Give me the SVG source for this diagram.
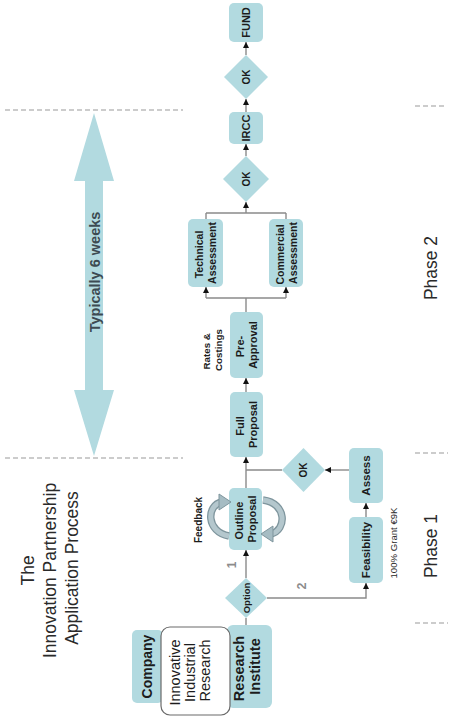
<svg xmlns="http://www.w3.org/2000/svg" width="458" height="720" viewBox="0 0 458 720">
<style>
.box{fill:#b2dae0;}
.bt{font-family:"Liberation Sans",Arial,sans-serif;font-weight:bold;fill:#1c1c1c;text-anchor:middle;dominant-baseline:central;}
.rt{font-family:"Liberation Sans",Arial,sans-serif;fill:#2a2a2a;text-anchor:middle;dominant-baseline:central;}
.ln{fill:none;stroke:#8a8a8a;stroke-width:1.4;}
.arr{fill:none;stroke:#8a8a8a;stroke-width:1.4;marker-end:url(#ah);}
.dash{fill:none;stroke:#9a9a9a;stroke-width:1.2;stroke-dasharray:5,3;}
.num{font-family:"Liberation Sans",Arial,sans-serif;font-weight:bold;fill:#8c8c8c;text-anchor:middle;dominant-baseline:central;}
</style>
<defs>
<marker id="ah" viewBox="0 0 10 10" refX="10" refY="5" markerWidth="6" markerHeight="7" orient="auto" markerUnits="userSpaceOnUse">
<path d="M0,0 L10,5 L0,10 z" fill="#111"/>
</marker>
</defs>
<rect width="458" height="720" fill="#ffffff"/>

<g id="title">
<text class="rt" transform="translate(50,568) rotate(-90)" font-size="17.5" fill="#333">
<tspan x="0" y="-22.5">The</tspan>
<tspan x="0" y="0">Innovation Partnership</tspan>
<tspan x="0" y="22">Application Process</tspan>
</text>
</g>

<g id="phase-markers">
<line class="dash" x1="5" y1="110" x2="183" y2="110"/>
<line class="dash" x1="5" y1="458" x2="183" y2="458"/>
<line class="dash" x1="415" y1="106" x2="444" y2="106"/>
<line class="dash" x1="415" y1="453" x2="448" y2="453"/>
<line class="dash" x1="415" y1="623" x2="448" y2="623"/>
<text class="rt" transform="translate(431,268) rotate(-90)" font-size="17.5">Phase 2</text>
<text class="rt" transform="translate(431,546) rotate(-90)" font-size="17.5">Phase 1</text>
</g>

<g id="duration">
<polygon class="box" points="94,113 114,181 103,181 103,390 114,390 94,456 74,390 85,390 85,181 74,181"/>
<text class="bt" transform="translate(95,272) rotate(-90)" font-size="14.5" style="fill:#3d4a52">Typically 6 weeks</text>
</g>

<g id="connectors">
<line class="ln" x1="246" y1="618" x2="246" y2="625"/>
<line class="arr" x1="246" y1="578" x2="246" y2="550"/>
<polyline class="arr" points="267,598 366,598 366,583"/>
<line class="arr" x1="366" y1="517" x2="366" y2="503"/>
<line class="arr" x1="349" y1="470" x2="325" y2="470"/>
<line class="ln" x1="282" y1="470" x2="246" y2="470"/>
<line class="arr" x1="246" y1="488" x2="246" y2="457"/>
<line class="arr" x1="246" y1="392" x2="246" y2="378"/>
<line class="ln" x1="246" y1="312" x2="246" y2="298"/>
<line class="ln" x1="206" y1="298" x2="286" y2="298"/>
<line class="arr" x1="206" y1="298" x2="206" y2="287"/>
<line class="arr" x1="286" y1="298" x2="286" y2="287"/>
<line class="ln" x1="206" y1="219" x2="206" y2="213"/>
<line class="ln" x1="286" y1="219" x2="286" y2="213"/>
<line class="ln" x1="206" y1="213" x2="286" y2="213"/>
<line class="arr" x1="246" y1="213" x2="246" y2="202"/>
<line class="arr" x1="246" y1="156" x2="246" y2="144"/>
<line class="arr" x1="246" y1="112" x2="246" y2="99"/>
<line class="arr" x1="246" y1="55" x2="246" y2="42"/>
<text class="num" transform="translate(232,565) rotate(-90)" font-size="12">1</text>
<text class="num" transform="translate(302,586) rotate(-90)" font-size="12.5">2</text>
</g>

<g id="fund">
<rect class="box" x="229" y="3" width="34" height="39" rx="5"/>
<text class="bt" transform="translate(246,22.5) rotate(-90)" font-size="11">FUND</text>
</g>
<g id="ok-final">
<polygon class="box" points="246,55 268,77 246,99 224,77"/>
<text class="bt" transform="translate(246,77) rotate(-90)" font-size="10">OK</text>
</g>
<g id="ircc">
<rect class="box" x="229" y="112" width="34" height="32" rx="5"/>
<text class="bt" transform="translate(246,128) rotate(-90)" font-size="11">IRCC</text>
</g>
<g id="ok-assessment">
<polygon class="box" points="246,156 269,179 246,202 223,179"/>
<text class="bt" transform="translate(246,179) rotate(-90)" font-size="10">OK</text>
</g>
<g id="technical-assessment">
<rect class="box" x="188" y="219" width="35" height="68" rx="5"/>
<text class="bt" transform="translate(205.5,253) rotate(-90)" font-size="10.5">
<tspan x="0" y="-6.5">Technical</tspan>
<tspan x="0" y="6.5">Assessment</tspan>
</text>
</g>
<g id="commercial-assessment">
<rect class="box" x="269" y="219" width="34" height="68" rx="5"/>
<text class="bt" transform="translate(286,253) rotate(-90)" font-size="10.5">
<tspan x="0" y="-6.5">Commercial</tspan>
<tspan x="0" y="6.5">Assessment</tspan>
</text>
</g>
<g id="pre-approval">
<rect class="box" x="230" y="312" width="33" height="66" rx="5"/>
<text class="bt" transform="translate(246.5,345) rotate(-90)" font-size="11">
<tspan x="0" y="-6.5">Pre-</tspan>
<tspan x="0" y="6.5">Approval</tspan>
</text>
</g>
<g id="rates-costings">
<text class="bt" transform="translate(212,350) rotate(-90)" font-size="9.8">
<tspan x="0" y="-6">Rates &amp;</tspan>
<tspan x="0" y="6">Costings</tspan>
</text>
</g>
<g id="full-proposal">
<rect class="box" x="230" y="392" width="33" height="65" rx="5"/>
<text class="bt" transform="translate(246.5,424.5) rotate(-90)" font-size="11">
<tspan x="0" y="-6.5">Full</tspan>
<tspan x="0" y="6.5">Proposal</tspan>
</text>
</g>
<g id="ok-feasibility">
<polygon class="box" points="303.5,448 325,470 303.5,492 282,470"/>
<text class="bt" transform="translate(303.5,470) rotate(-90)" font-size="10">OK</text>
</g>
<g id="assess">
<rect class="box" x="349" y="448" width="34" height="55" rx="5"/>
<text class="bt" transform="translate(366,475.5) rotate(-90)" font-size="11.5">Assess</text>
</g>
<g id="feasibility">
<rect class="box" x="349" y="517" width="34" height="66" rx="5"/>
<text class="bt" transform="translate(366,550) rotate(-90)" font-size="11.5">Feasibility</text>
</g>
<g id="grant">
<text class="rt" transform="translate(393,543) rotate(-90)" font-size="9.6">100% Grant €9K</text>
</g>
<g id="outline-proposal">
<rect class="box" x="229" y="488" width="33" height="62" rx="5"/>
<text class="bt" transform="translate(245.5,519) rotate(-90)" font-size="11">
<tspan x="0" y="-6.5">Outline</tspan>
<tspan x="0" y="6.5">Proposal</tspan>
</text>
</g>
<g id="feedback">
<path d="M229,536 C206,532 206,505 222,502" fill="none" stroke="#7e959d" stroke-width="7.5"/>
<path d="M229,536 C206,532 206,505 222,502" fill="none" stroke="#b4c7cd" stroke-width="5"/>
<polygon points="219,494 231,502 219,510" fill="#a6bcc3" stroke="#7e959d" stroke-width="1"/>
<path d="M263,500 C287,503 287,530 271,534" fill="none" stroke="#7e959d" stroke-width="7.5"/>
<path d="M263,500 C287,503 287,530 271,534" fill="none" stroke="#b4c7cd" stroke-width="5"/>
<polygon points="273,526 261,534 273,542" fill="#a6bcc3" stroke="#7e959d" stroke-width="1"/>
<text class="bt" transform="translate(198,520) rotate(-90)" font-size="10">Feedback</text>
</g>
<g id="option">
<polygon class="box" points="246,578 267,598 246,618 225,598"/>
<text class="bt" transform="translate(246,598) rotate(-90)" font-size="9.5">Option</text>
</g>
<g id="company">
<rect class="box" x="132" y="630" width="31" height="73" rx="5"/>
<text class="bt" transform="translate(147,666.5) rotate(-90)" font-size="14">Company</text>
</g>
<g id="research-institute">
<rect class="box" x="227" y="625" width="45" height="83" rx="6"/>
<text class="bt" transform="translate(247,666.5) rotate(-90)" font-size="14.5">
<tspan x="0" y="-8.25">Research</tspan>
<tspan x="0" y="8.25">Institute</tspan>
</text>
</g>
<g id="innovative-industrial-research">
<rect x="161" y="627" width="69" height="88" rx="9" fill="#ffffff" stroke="#6a6a6a" stroke-width="1.2"/>
<text class="rt" transform="translate(189.5,670.5) rotate(-90)" font-size="14.5" style="fill:#1c1c1c">
<tspan x="0" y="-15">Innovative</tspan>
<tspan x="0" y="0">Industrial</tspan>
<tspan x="0" y="15">Research</tspan>
</text>
</g>
</svg>
